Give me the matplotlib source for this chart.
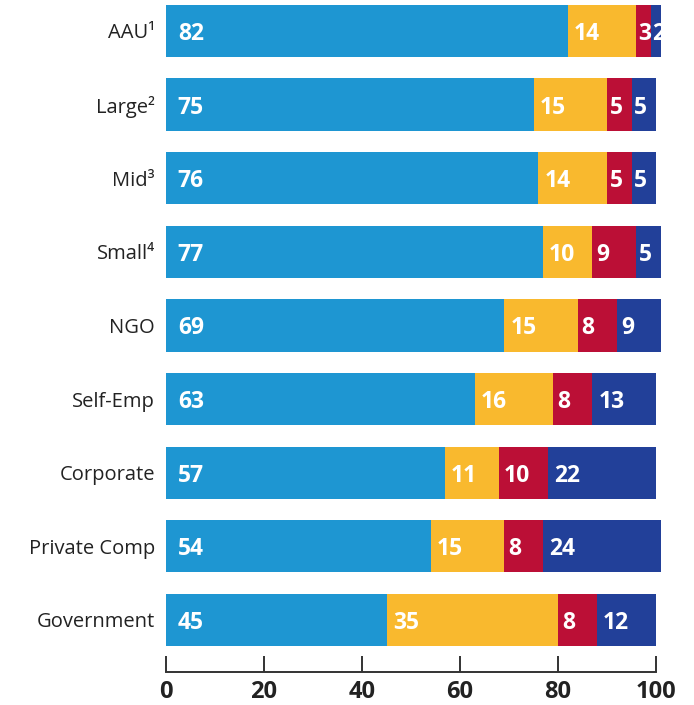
import matplotlib
matplotlib.use("Agg")
import matplotlib.pyplot as plt
import numpy as np

# survey shares per employer group (percent)
categories = ["AAU¹", "Large²", "Mid³", "Small⁴", "NGO", "Self-Emp",
              "Corporate", "Private Comp", "Government"]
series_1 = [82, 75, 76, 77, 69, 63, 57, 54, 45]
series_2 = [14, 15, 14, 10, 15, 16, 11, 15, 35]
series_3 = [3, 5, 5, 9, 8, 8, 10, 8, 8]
series_4 = [2, 5, 5, 5, 9, 13, 22, 24, 12]
x_ticks = [0, 20, 40, 60, 80, 100]

colors = ["#1e96d2", "#f9b92e", "#bb0f36", "#224099"]

plt.rcParams["font.family"] = ["Open Sans", "DejaVu Sans"]

fig = plt.figure(figsize=(6.94, 7.05), dpi=100)
ax = fig.add_axes([166 / 694, 33 / 705, 4.9 * 101 / 694, 672 / 705])

y = np.arange(len(categories))
bar_h = 0.71
left = np.zeros(len(categories))
for k, vals in enumerate([series_1, series_2, series_3, series_4]):
    vals = np.array(vals, dtype=float)
    ax.barh(y, vals, left=left, height=bar_h, color=colors[k], linewidth=0)
    for i, v in enumerate(vals):
        #first segment gets a wider pad, tiny segments almost none
        pad = 2.4 if k == 0 else min(1.3, 0.1 * v)
        ax.text(left[i] + pad, y[i], "%d" % v, color="white", fontsize=16.5,
                fontweight="bold", va="center_baseline", ha="left")
    left += vals

ax.set_xlim(0, 101)
ax.set_ylim(8.707, -0.42)
ax.set_yticks(y)
ax.set_yticklabels(categories, fontsize=14.5, color="#222222")
ax.tick_params(axis="y", length=0, pad=8)

ax.set_xticks(x_ticks)
ax.set_xticklabels([str(t) for t in x_ticks], fontsize=17, fontweight="bold",
                   color="#222222")
ax.tick_params(axis="x", direction="in", length=11.5, width=1.4,
               color="#333333", pad=6)

for side in ["top", "right", "left"]:
    ax.spines[side].set_visible(False)
ax.spines["bottom"].set_bounds(0, 100)
ax.spines["bottom"].set_linewidth(1.4)
ax.spines["bottom"].set_color("#333333")

fig.savefig("out.png", dpi=100)
